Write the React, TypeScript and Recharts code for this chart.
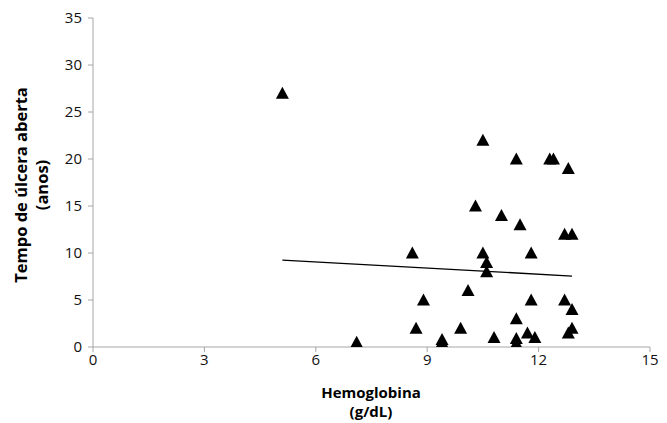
import { ScatterChart, Scatter, XAxis, YAxis } from 'recharts';

// Hemoglobina (g/dL) vs tempo de úlcera aberta (anos)
const hemoglobina = [
  5.1, 7.1, 8.6, 8.7, 8.9, 9.4, 9.4, 9.9, 10.1, 10.3, 10.5, 10.5, 10.6, 10.6,
  10.8, 11.0, 11.4, 11.4, 11.4, 11.4, 11.5, 11.7, 11.8, 11.8, 11.9, 12.3, 12.4,
  12.7, 12.7, 12.8, 12.8, 12.9, 12.9, 12.9,
];
const tempoAnos = [
  27, 0.5, 10, 2, 5, 0.5, 0.8, 2, 6, 15, 22, 10, 9, 8,
  1, 14, 20, 3, 0.9, 0.4, 13, 1.5, 10, 5, 1, 20, 20,
  12, 5, 19, 1.5, 12, 4, 2,
];

// linha de tendência (extremos)
const trendX = [5.1, 12.9];
const trendY = [9.25, 7.55];

const xTicks = [0, 3, 6, 9, 12, 15];
const yTicks = [0, 5, 10, 15, 20, 25, 30, 35];

const AXIS_GRAY = '#a6a6a6';
const FONT = '"Open Sans", sans-serif';

const points = hemoglobina.map((x, i) => ({ x, y: tempoAnos[i] }));
const trend = trendX.map((x, i) => ({ x, y: trendY[i] }));

function Triangle(props: any) {
  const { cx, cy } = props;
  if (cx == null || cy == null) return <g />;
  const w = 6.5;
  const h = 11;
  return (
    <polygon
      points={`${cx},${cy - h / 2 - 1} ${cx - w},${cy + h / 2} ${cx + w},${cy + h / 2}`}
      fill="#000"
    />
  );
}

const NoDot = () => <g />;

function YTitle() {
  return (
    <text
      transform="translate(22,185) rotate(-90)"
      textAnchor="middle"
      fontFamily={FONT}
      fontWeight={700}
      fontSize={16.5}
      fill="#000"
    >
      <tspan x={0} dy={5}>Tempo de úlcera aberta</tspan>
      <tspan x={0} dy={21}>(anos)</tspan>
    </text>
  );
}

function XTitle() {
  return (
    <text textAnchor="middle" fontFamily={FONT} fontWeight={700} fontSize={15} fill="#000">
      <tspan x={371} y={398}>Hemoglobina</tspan>
      <tspan x={371} y={417}>(g/dL)</tspan>
    </text>
  );
}

export default function App() {
  return (
    <div style={{ position: 'absolute', left: 0, top: 0, width: 667, height: 423, background: '#fff' }}>
      <ScatterChart width={667} height={423} margin={{ top: 18, right: 17, bottom: 0, left: 0 }}>
        <XAxis
          dataKey="x"
          type="number"
          domain={[0, 15]}
          ticks={xTicks}
          height={76}
          stroke={AXIS_GRAY}
          tickSize={5}
          tick={{ fontSize: 15, fill: '#111', fontFamily: FONT }}
          tickMargin={2}
          label={<XTitle />}
          allowDataOverflow
        />
        <YAxis
          dataKey="y"
          type="number"
          domain={[0, 35]}
          ticks={yTicks}
          width={93}
          stroke={AXIS_GRAY}
          tickSize={5}
          tick={{ fontSize: 15, fill: '#111', fontFamily: FONT }}
          tickMargin={6}
          label={<YTitle />}
          allowDataOverflow
        />
        <Scatter data={points} shape={<Triangle />} isAnimationActive={false} />
        <Scatter
          data={trend}
          line={{ stroke: '#000', strokeWidth: 1.3 }}
          shape={<NoDot />}
          isAnimationActive={false}
        />
      </ScatterChart>
    </div>
  );
}
